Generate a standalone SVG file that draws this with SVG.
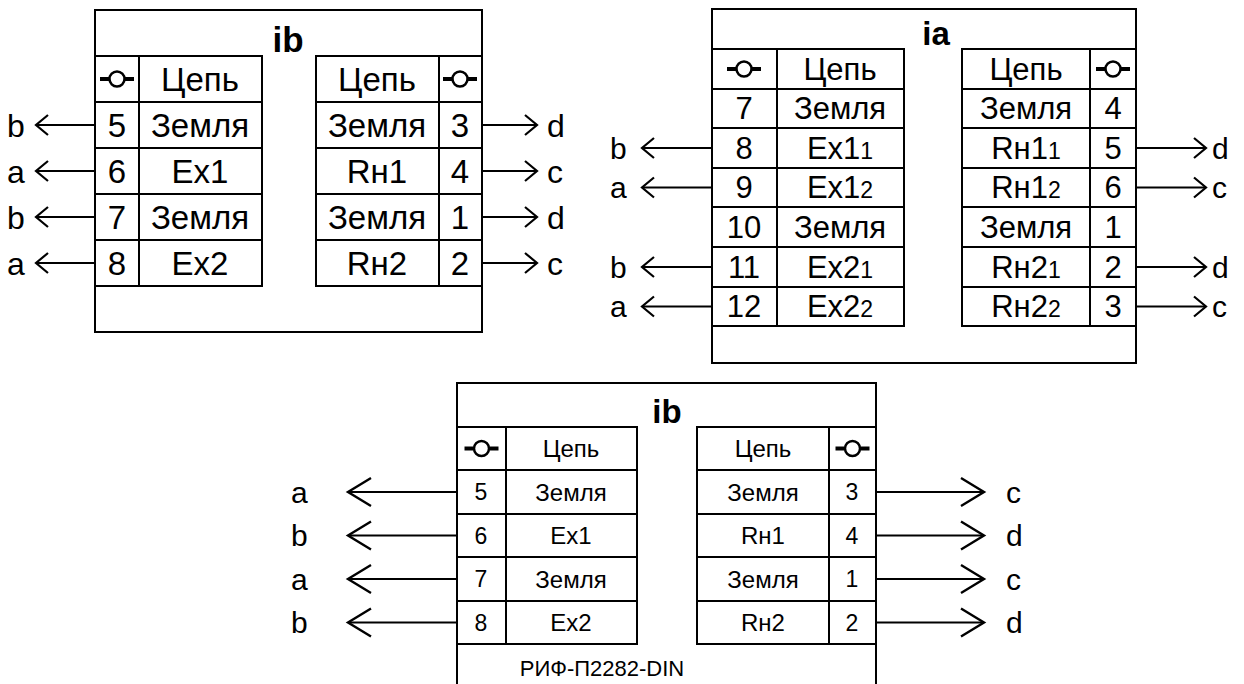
<svg xmlns="http://www.w3.org/2000/svg" width="1244" height="684" viewBox="0 0 1244 684">
<style>
.frame{fill:#fff;stroke:#000;stroke-width:2}
.cell{fill:#fff;stroke:#000;stroke-width:2}
.ln{stroke:#000;stroke-width:2;fill:none}
.t{font-family:"Liberation Sans",Arial,sans-serif;fill:#000;text-anchor:middle}
.title{font-weight:bold}
.lbl{font-family:"Liberation Sans",Arial,sans-serif;fill:#000}
.sym circle{fill:#fff;stroke:#000;stroke-width:2.5}
.sym line{stroke:#000;stroke-width:4}
.w{stroke:#000;stroke-width:2;fill:none}
</style>
<defs>
<marker id="arrS" markerUnits="userSpaceOnUse" viewBox="-15 -13 17 26" markerWidth="17" markerHeight="26" refX="0" refY="0" orient="auto">
<path d="M-12 -10 L0 0 L-12 10" fill="none" stroke="#000" stroke-width="2.2"/>
</marker>
<marker id="arrB" markerUnits="userSpaceOnUse" viewBox="-27 -17 30 34" markerWidth="30" markerHeight="34" refX="0" refY="0" orient="auto">
<path d="M-23 -14 L0 0 L-23 14" fill="none" stroke="#000" stroke-width="2.4"/>
</marker>
<g id="symTerm" class="sym">
<line x1="-17" y1="0" x2="-8" y2="0"/>
<line x1="8" y1="0" x2="17" y2="0"/>
<circle cx="0" cy="0" r="7.5"/>
</g>
</defs>
<rect width="1244" height="684" fill="#fff"/>

<!-- Top-left block ib -->
<g id="block-ib-top">
<rect class="frame" x="95" y="10" width="387" height="322"/>
<text class="t title" x="288" y="52" font-size="35">ib</text>
<g id="ib-top-left-table">
<rect class="cell" x="95" y="56" width="167" height="230"/>
<line class="ln" x1="139" y1="56" x2="139" y2="286"/>
<line class="ln" x1="95" y1="102" x2="262" y2="102"/>
<line class="ln" x1="95" y1="148" x2="262" y2="148"/>
<line class="ln" x1="95" y1="194" x2="262" y2="194"/>
<line class="ln" x1="95" y1="240" x2="262" y2="240"/>
<use href="#symTerm" x="117" y="79"/>
<g class="t" font-size="33">
<text x="200" y="91">Цепь</text>
<text x="117" y="137">5</text><text x="200" y="137">Земля</text>
<text x="117" y="183">6</text><text x="200" y="183">Ex1</text>
<text x="117" y="229">7</text><text x="200" y="229">Земля</text>
<text x="117" y="275">8</text><text x="200" y="275">Ex2</text>
</g>
</g>
<g id="ib-top-right-table">
<rect class="cell" x="316" y="56" width="166" height="230"/>
<line class="ln" x1="439" y1="56" x2="439" y2="286"/>
<line class="ln" x1="316" y1="102" x2="482" y2="102"/>
<line class="ln" x1="316" y1="148" x2="482" y2="148"/>
<line class="ln" x1="316" y1="194" x2="482" y2="194"/>
<line class="ln" x1="316" y1="240" x2="482" y2="240"/>
<use href="#symTerm" x="460" y="79"/>
<g class="t" font-size="33">
<text x="377" y="91">Цепь</text>
<text x="377" y="137">Земля</text><text x="460" y="137">3</text>
<text x="377" y="183">Rн1</text><text x="460" y="183">4</text>
<text x="377" y="229">Земля</text><text x="460" y="229">1</text>
<text x="377" y="275">Rн2</text><text x="460" y="275">2</text>
</g>
</g>
</g>

<!-- Top-right block ia -->
<g id="block-ia">
<rect class="frame" x="712" y="9" width="424" height="354"/>
<text class="t title" x="936" y="45" font-size="33">ia</text>
<g id="ia-left-table">
<rect class="cell" x="712" y="49" width="192" height="277"/>
<line class="ln" x1="777" y1="49" x2="777" y2="326"/>
<line class="ln" x1="712" y1="89" x2="904" y2="89"/>
<line class="ln" x1="712" y1="128" x2="904" y2="128"/>
<line class="ln" x1="712" y1="168" x2="904" y2="168"/>
<line class="ln" x1="712" y1="207" x2="904" y2="207"/>
<line class="ln" x1="712" y1="247" x2="904" y2="247"/>
<line class="ln" x1="712" y1="287" x2="904" y2="287"/>
<use href="#symTerm" x="744" y="69"/>
<g class="t" font-size="31">
<text x="840" y="80">Цепь</text>
<text x="744" y="119">7</text><text x="840" y="119">Земля</text>
<text x="744" y="159">8</text><text x="840" y="159">Ex1<tspan font-size="23">1</tspan></text>
<text x="744" y="198">9</text><text x="840" y="198">Ex1<tspan font-size="23">2</tspan></text>
<text x="744" y="238">10</text><text x="840" y="238">Земля</text>
<text x="744" y="278">11</text><text x="840" y="278">Ex2<tspan font-size="23">1</tspan></text>
<text x="744" y="317">12</text><text x="840" y="317">Ex2<tspan font-size="23">2</tspan></text>
</g>
</g>
<g id="ia-right-table">
<rect class="cell" x="962" y="49" width="174" height="277"/>
<line class="ln" x1="1090" y1="49" x2="1090" y2="326"/>
<line class="ln" x1="962" y1="89" x2="1136" y2="89"/>
<line class="ln" x1="962" y1="128" x2="1136" y2="128"/>
<line class="ln" x1="962" y1="168" x2="1136" y2="168"/>
<line class="ln" x1="962" y1="207" x2="1136" y2="207"/>
<line class="ln" x1="962" y1="247" x2="1136" y2="247"/>
<line class="ln" x1="962" y1="287" x2="1136" y2="287"/>
<use href="#symTerm" x="1113" y="69"/>
<g class="t" font-size="31">
<text x="1026" y="80">Цепь</text>
<text x="1026" y="119">Земля</text><text x="1113" y="119">4</text>
<text x="1026" y="159">Rн1<tspan font-size="23">1</tspan></text><text x="1113" y="159">5</text>
<text x="1026" y="198">Rн1<tspan font-size="23">2</tspan></text><text x="1113" y="198">6</text>
<text x="1026" y="238">Земля</text><text x="1113" y="238">1</text>
<text x="1026" y="278">Rн2<tspan font-size="23">1</tspan></text><text x="1113" y="278">2</text>
<text x="1026" y="317">Rн2<tspan font-size="23">2</tspan></text><text x="1113" y="317">3</text>
</g>
</g>
</g>

<!-- Bottom block ib -->
<g id="block-ib-bottom">
<path class="frame" d="M457 700 L457 383 L876 383 L876 700"/>
<text class="t title" x="667" y="423" font-size="33">ib</text>
<g id="ib-bottom-left-table">
<rect class="cell" x="457" y="427" width="180" height="217"/>
<line class="ln" x1="506" y1="427" x2="506" y2="644"/>
<line class="ln" x1="457" y1="470" x2="637" y2="470"/>
<line class="ln" x1="457" y1="514" x2="637" y2="514"/>
<line class="ln" x1="457" y1="557" x2="637" y2="557"/>
<line class="ln" x1="457" y1="601" x2="637" y2="601"/>
<use href="#symTerm" x="481.5" y="448.5"/>
<g class="t" font-size="24">
<text x="571" y="457">Цепь</text>
<text x="571" y="500.5">Земля</text>
<text x="571" y="544">Ex1</text>
<text x="571" y="587.5">Земля</text>
<text x="571" y="631">Ex2</text>
</g>
<g class="t" font-size="23">
<text x="481" y="500">5</text>
<text x="481" y="543.5">6</text>
<text x="481" y="587">7</text>
<text x="481" y="630.5">8</text>
</g>
</g>
<g id="ib-bottom-right-table">
<rect class="cell" x="697" y="427" width="179" height="217"/>
<line class="ln" x1="829" y1="427" x2="829" y2="644"/>
<line class="ln" x1="697" y1="470" x2="876" y2="470"/>
<line class="ln" x1="697" y1="514" x2="876" y2="514"/>
<line class="ln" x1="697" y1="557" x2="876" y2="557"/>
<line class="ln" x1="697" y1="601" x2="876" y2="601"/>
<use href="#symTerm" x="852.5" y="448.5"/>
<g class="t" font-size="24">
<text x="763" y="457">Цепь</text>
<text x="763" y="500.5">Земля</text>
<text x="763" y="544">Rн1</text>
<text x="763" y="587.5">Земля</text>
<text x="763" y="631">Rн2</text>
</g>
<g class="t" font-size="23">
<text x="852" y="500">3</text>
<text x="852" y="543.5">4</text>
<text x="852" y="587">1</text>
<text x="852" y="630.5">2</text>
</g>
</g>
<text class="t" x="602" y="676" font-size="22">РИФ-П2282-DIN</text>
</g>

<!-- Connectors -->
<g id="connectors">
<g marker-end="url(#arrS)" class="w">
<line x1="95" y1="125" x2="36" y2="125"/>
<line x1="95" y1="171" x2="36" y2="171"/>
<line x1="95" y1="217" x2="36" y2="217"/>
<line x1="95" y1="263" x2="36" y2="263"/>
<line x1="482" y1="125" x2="537" y2="125"/>
<line x1="482" y1="171" x2="537" y2="171"/>
<line x1="482" y1="217" x2="537" y2="217"/>
<line x1="482" y1="263" x2="537" y2="263"/>
<line x1="712" y1="148" x2="642" y2="148"/>
<line x1="712" y1="187.5" x2="642" y2="187.5"/>
<line x1="712" y1="267" x2="642" y2="267"/>
<line x1="712" y1="306.5" x2="642" y2="306.5"/>
<line x1="1136" y1="148" x2="1206" y2="148"/>
<line x1="1136" y1="187.5" x2="1206" y2="187.5"/>
<line x1="1136" y1="267" x2="1206" y2="267"/>
<line x1="1136" y1="306.5" x2="1206" y2="306.5"/>
</g>
<g marker-end="url(#arrB)" class="w">
<line x1="457" y1="492" x2="348" y2="492"/>
<line x1="457" y1="535.5" x2="348" y2="535.5"/>
<line x1="457" y1="579" x2="348" y2="579"/>
<line x1="457" y1="622.5" x2="348" y2="622.5"/>
<line x1="876" y1="492" x2="984" y2="492"/>
<line x1="876" y1="535.5" x2="984" y2="535.5"/>
<line x1="876" y1="579" x2="984" y2="579"/>
<line x1="876" y1="622.5" x2="984" y2="622.5"/>
</g>
<g class="lbl" font-size="32">
<text x="7" y="137">b</text>
<text x="7" y="183">a</text>
<text x="7" y="229">b</text>
<text x="7" y="275">a</text>
<text x="547" y="137">d</text>
<text x="547" y="183">c</text>
<text x="547" y="229">d</text>
<text x="547" y="275">c</text>
</g>
<g class="lbl" font-size="30">
<text x="610" y="159">b</text>
<text x="610" y="198">a</text>
<text x="610" y="278">b</text>
<text x="610" y="317">a</text>
<text x="1212" y="159">d</text>
<text x="1212" y="198">c</text>
<text x="1212" y="278">d</text>
<text x="1212" y="317">c</text>
</g>
<g class="lbl" font-size="30">
<text x="291" y="503">a</text>
<text x="291" y="546">b</text>
<text x="291" y="590">a</text>
<text x="291" y="633">b</text>
<text x="1006" y="503">c</text>
<text x="1006" y="546">d</text>
<text x="1006" y="590">c</text>
<text x="1006" y="633">d</text>
</g>
</g>
</svg>
